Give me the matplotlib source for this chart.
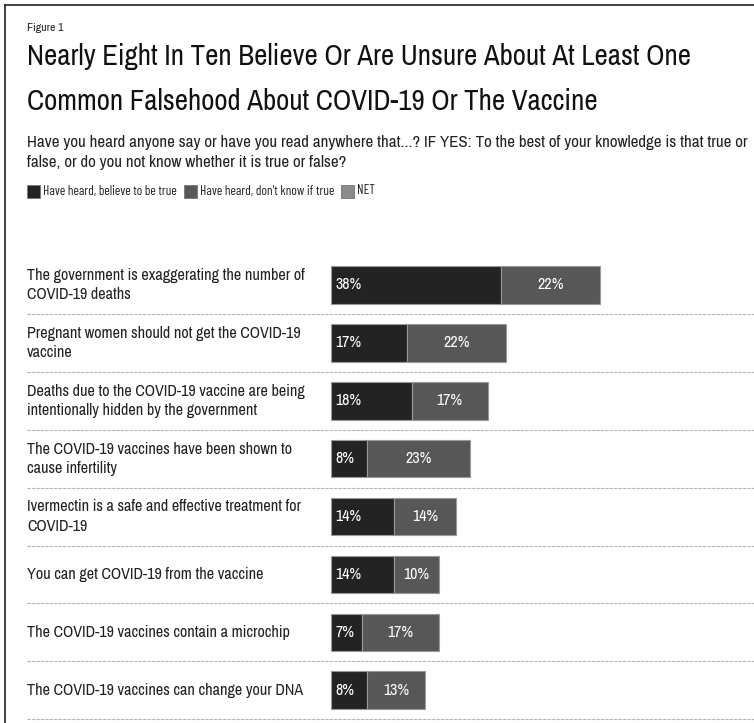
import matplotlib.pyplot as plt
from matplotlib.patches import Rectangle
from matplotlib.lines import Line2D

plt.rcParams['font.family'] = ['Archivo Narrow', 'DejaVu Sans']

# data
statements = [
    "The government is exaggerating the number of\nCOVID-19 deaths",
    "Pregnant women should not get the COVID-19\nvaccine",
    "Deaths due to the COVID-19 vaccine are being\nintentionally hidden by the government",
    "The COVID-19 vaccines have been shown to\ncause infertility",
    "Ivermectin is a safe and effective treatment for\nCOVID-19",
    "You can get COVID-19 from the vaccine",
    "The COVID-19 vaccines contain a microchip",
    "The COVID-19 vaccines can change your DNA",
]
believe_true = [38, 17, 18, 8, 14, 14, 7, 8]
dont_know = [22, 22, 17, 23, 14, 10, 17, 13]
legend_labels = ["Have heard, believe to be true", "Have heard, don't know if true", "NET"]
colors = ["#232323", "#575757", "#8a8a8a"]

W, H = 754, 723
fig = plt.figure(figsize=(W / 100, H / 100), dpi=100)


def fx(px):
    return px / W


def fy(py):
    return 1 - py / H


# frame lines (top / left)
fig.add_artist(Line2D([fx(5), 1], [fy(5), fy(5)], color="#222222", lw=1.2))
fig.add_artist(Line2D([fx(5), fx(5)], [fy(5), 0], color="#222222", lw=1.2))

fig.text(fx(27), fy(28), "Figure 1", fontsize=8.5, va="center", color="#222222")
fig.text(fx(27), fy(65), "Nearly Eight In Ten Believe Or Are Unsure About At Least One",
         fontsize=20.8, va="baseline", color="#111111")
fig.text(fx(27), fy(110), "Common Falsehood About COVID-19 Or The Vaccine",
         fontsize=20.8, va="baseline", color="#111111")
fig.text(fx(27), fy(147), "Have you heard anyone say or have you read anywhere that...? IF YES: "
         "To the best of your knowledge is that true or",
         fontsize=12.2, va="baseline", color="#222222")
fig.text(fx(27), fy(167), "false, or do you not know whether it is true or false?",
         fontsize=12.2, va="baseline", color="#222222")

# legend: square + label, placed one after another
renderer = fig.canvas.get_renderer()
lx = 27
for lab, c in zip(legend_labels, colors):
    fig.add_artist(Rectangle((fx(lx), fy(198)), 13 / W, 13 / H, transform=fig.transFigure,
                             facecolor=c, edgecolor="#777777", lw=0.6))
    t = fig.text(fx(lx + 16), fy(191), lab, fontsize=9.6, va="center", color="#222222",
                 family=["Barlow Condensed", "Archivo Narrow", "DejaVu Sans"])
    lx = t.get_window_extent(renderer).x1 + 7

# bars
px_per_pct = 4.48
x0_px, ax_left, ax_right = 331, 27, 754
top_px, spacing = 256, 57.9
ax = fig.add_axes([fx(ax_left), 0, fx(ax_right - ax_left), fy(top_px)])
ax.set_xlim(-(x0_px - ax_left) / px_per_pct, (ax_right - x0_px) / px_per_pct)
ax.set_ylim(-0.5 + (H - top_px) / spacing, -0.5)
ax.axis("off")

ypos = list(range(len(statements)))
ax.barh(ypos, believe_true, height=0.65, color=colors[0], edgecolor="#999999", lw=0.8)
ax.barh(ypos, dont_know, left=believe_true, height=0.65, color=colors[1],
        edgecolor="#999999", lw=0.8)

for y, s, a, b in zip(ypos, statements, believe_true, dont_know):
    ax.text(ax.get_xlim()[0], y, s, fontsize=11.6, va="center", ha="left",
            color="#222222", linespacing=1.35)
    ax.text(0.9, y, f"{a}%", color="white", fontsize=11.5, va="center", ha="left")
    ax.text(a + b / 2, y, f"{b}%", color="white", fontsize=11.5, va="center", ha="center")
    ax.axhline(y + 0.5, color="#b5b5b5", lw=0.8, ls=(0, (3, 1)))

fig.savefig("out.png", dpi=100)
